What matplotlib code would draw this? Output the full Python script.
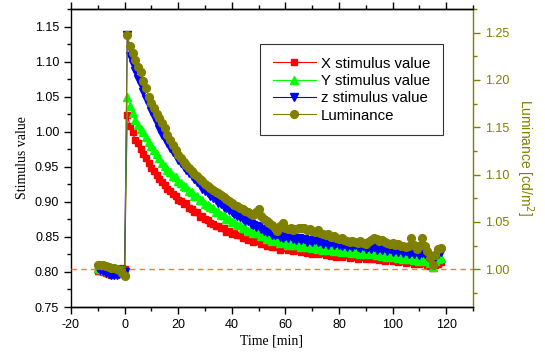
import numpy as np
import matplotlib
matplotlib.use("Agg")
import matplotlib.pyplot as plt
from matplotlib.ticker import MultipleLocator, FormatStrFormatter, FuncFormatter

# Time axis [min]: dark baseline (-10..0), then 1-min samples after stimulus onset
time_pre = [-10, -9, -8, -7, -6, -5, -4, -3, -2, -1, 0]
time_post = list(range(1, 119))
time = time_pre + time_post

x_pre = [0.802, 0.801, 0.800, 0.799, 0.797, 0.796, 0.797, 0.799, 0.803, 0.805, 0.804]
x_post = [
    1.024, 1.008, 0.999, 0.988, 0.984, 0.975, 0.968, 0.963, 0.955, 0.948,
    0.944, 0.938, 0.932, 0.928, 0.924, 0.918, 0.916, 0.911, 0.908, 0.903,
    0.901, 0.897, 0.898, 0.891, 0.890, 0.885, 0.885, 0.879, 0.880, 0.875,
    0.874, 0.870, 0.869, 0.865, 0.866, 0.862, 0.862, 0.857, 0.858, 0.854,
    0.856, 0.852, 0.853, 0.849, 0.849, 0.846, 0.847, 0.843, 0.844, 0.847,
    0.840, 0.841, 0.837, 0.843, 0.835, 0.836, 0.838, 0.832, 0.834, 0.837,
    0.831, 0.834, 0.830, 0.831, 0.834, 0.828, 0.831, 0.827, 0.831, 0.826,
    0.830, 0.825, 0.828, 0.827, 0.824, 0.829, 0.823, 0.826, 0.822, 0.826,
    0.821, 0.824, 0.827, 0.820, 0.823, 0.822, 0.819, 0.824, 0.821, 0.818,
    0.823, 0.819, 0.819, 0.822, 0.817, 0.820, 0.816, 0.820, 0.818, 0.815,
    0.819, 0.814, 0.817, 0.816, 0.813, 0.818, 0.814, 0.812, 0.816, 0.811,
    0.814, 0.813, 0.810, 0.809, 0.805, 0.810, 0.812, 0.814,
]

y_pre = [0.806, 0.804, 0.803, 0.801, 0.800, 0.799, 0.800, 0.801, 0.802, 0.803, 0.802]
y_post = [
    1.050, 1.036, 1.026, 1.017, 1.010, 1.004, 0.999, 0.993, 0.986, 0.980,
    0.974, 0.968, 0.962, 0.956, 0.951, 0.946, 0.943, 0.937, 0.935, 0.929,
    0.927, 0.922, 0.921, 0.915, 0.914, 0.909, 0.908, 0.903, 0.902, 0.897,
    0.896, 0.892, 0.891, 0.886, 0.885, 0.881, 0.881, 0.876, 0.876, 0.871,
    0.871, 0.867, 0.867, 0.863, 0.863, 0.859, 0.859, 0.855, 0.855, 0.856,
    0.851, 0.851, 0.847, 0.850, 0.844, 0.845, 0.847, 0.841, 0.842, 0.844,
    0.839, 0.842, 0.838, 0.839, 0.841, 0.836, 0.839, 0.835, 0.838, 0.834,
    0.837, 0.833, 0.836, 0.832, 0.835, 0.831, 0.835, 0.830, 0.834, 0.830,
    0.829, 0.833, 0.828, 0.832, 0.827, 0.831, 0.829, 0.826, 0.830, 0.825,
    0.829, 0.825, 0.828, 0.824, 0.827, 0.823, 0.827, 0.822, 0.826, 0.821,
    0.825, 0.820, 0.824, 0.819, 0.823, 0.818, 0.822, 0.817, 0.821, 0.816,
    0.820, 0.818, 0.815, 0.813, 0.807, 0.815, 0.818, 0.820,
]

z_pre = [0.805, 0.803, 0.801, 0.799, 0.797, 0.796, 0.795, 0.796, 0.797, 0.799, 0.800]
z_post = [
    1.138, 1.108, 1.097, 1.086, 1.075, 1.066, 1.056, 1.047, 1.038, 1.030,
    1.021, 1.012, 1.004, 0.996, 0.990, 0.984, 0.977, 0.971, 0.966, 0.960,
    0.956, 0.950, 0.946, 0.941, 0.937, 0.932, 0.928, 0.924, 0.919, 0.916,
    0.912, 0.909, 0.905, 0.903, 0.899, 0.897, 0.893, 0.891, 0.888, 0.885,
    0.883, 0.880, 0.878, 0.876, 0.873, 0.872, 0.868, 0.867, 0.864, 0.866,
    0.861, 0.859, 0.857, 0.859, 0.853, 0.852, 0.854, 0.850, 0.849, 0.851,
    0.848, 0.851, 0.847, 0.846, 0.849, 0.845, 0.847, 0.843, 0.846, 0.843,
    0.845, 0.842, 0.844, 0.840, 0.843, 0.839, 0.842, 0.838, 0.841, 0.839,
    0.837, 0.840, 0.836, 0.839, 0.835, 0.838, 0.836, 0.834, 0.837, 0.833,
    0.836, 0.833, 0.835, 0.832, 0.834, 0.831, 0.834, 0.830, 0.833, 0.829,
    0.832, 0.828, 0.831, 0.827, 0.830, 0.826, 0.829, 0.825, 0.828, 0.824,
    0.827, 0.826, 0.823, 0.820, 0.816, 0.823, 0.826, 0.829,
]

lum_pre = [1.004, 1.004, 1.004, 1.003, 1.002, 1.001, 1.001, 1.000, 0.999, 0.996, 0.993]
lum_post = [
    1.248, 1.236, 1.228, 1.221, 1.214, 1.208, 1.199, 1.191, 1.182, 1.176,
    1.170, 1.164, 1.160, 1.155, 1.149, 1.142, 1.137, 1.131, 1.126, 1.121,
    1.117, 1.113, 1.110, 1.107, 1.104, 1.101, 1.098, 1.095, 1.093, 1.090,
    1.088, 1.086, 1.084, 1.082, 1.080, 1.078, 1.076, 1.074, 1.072, 1.070,
    1.068, 1.067, 1.065, 1.064, 1.062, 1.060, 1.058, 1.057, 1.060, 1.064,
    1.056, 1.053, 1.051, 1.049, 1.047, 1.044, 1.040, 1.046, 1.049, 1.043,
    1.042, 1.043, 1.041, 1.042, 1.044, 1.043, 1.044, 1.041, 1.042, 1.040,
    1.039, 1.041, 1.038, 1.037, 1.036, 1.037, 1.034, 1.035, 1.033, 1.032,
    1.033, 1.031, 1.030, 1.029, 1.030, 1.029, 1.028, 1.030, 1.028, 1.027,
    1.029, 1.031, 1.033, 1.032, 1.030, 1.031, 1.029, 1.028, 1.027, 1.028,
    1.026, 1.027, 1.025, 1.024, 1.023, 1.025, 1.033, 1.026, 1.021, 1.024,
    1.033, 1.025, 1.019, 1.012, 1.004, 1.015, 1.021, 1.022,
]

x_val = x_pre + x_post
y_val = y_pre + y_post
z_val = z_pre + z_post
lum_val = lum_pre + lum_post

baseline_lum = 1.00
olive = "#808000"
sans = ["Liberation Sans", "Arial", "DejaVu Sans"]
serif = ["Liberation Serif", "Times New Roman", "DejaVu Serif"]

plt.rcParams["font.family"] = sans
plt.rcParams["font.size"] = 9

fig = plt.figure(figsize=(5.45, 3.52), dpi=100)
ax = fig.add_axes([71 / 545, 45 / 352, 402 / 545, 298 / 352])
ax2 = ax.twinx()

ms = 4.8
ax.plot(time, x_val, color="#ff0000", lw=0.8, marker="s", ms=ms, mec="#ff0000",
        label="X stimulus value")
ax.plot(time, y_val, color="#00ff00", lw=0.8, marker="^", ms=ms + 0.6, mec="#00ff00",
        label="Y stimulus value")
ax.plot(time, z_val, color="#0000ff", lw=0.8, marker="v", ms=ms + 0.6, mec="#0000ff",
        label="z stimulus value")
ax2.plot(time, lum_val, color=olive, lw=0.8, marker="o", ms=ms + 0.8, mec=olive,
         label="Luminance")
ax2.axhline(baseline_lum, color="#ff8000", lw=1.0, ls=(0, (4, 3)), zorder=0)

ax.set_xlim(-20, 130)
ax.set_ylim(0.75, 1.175)
ax2.set_ylim(0.96, 1.275)

ax.xaxis.set_major_locator(MultipleLocator(20))
ax.xaxis.set_minor_locator(MultipleLocator(10))
ax.yaxis.set_major_locator(MultipleLocator(0.05))
ax.yaxis.set_minor_locator(MultipleLocator(0.025))
ax2.yaxis.set_major_locator(MultipleLocator(0.05))
ax2.yaxis.set_minor_locator(MultipleLocator(0.025))
ax.xaxis.set_major_formatter(FuncFormatter(lambda v, p: f"{v:.0f}"))
ax.yaxis.set_major_formatter(FormatStrFormatter("%.2f"))
ax2.yaxis.set_major_formatter(FormatStrFormatter("%.2f"))

ax.tick_params(axis="x", which="both", direction="out", top=True, labeltop=False)
ax.tick_params(axis="x", which="major", length=5, width=1, labelsize=9)
ax.tick_params(axis="x", which="minor", length=3, width=1)
ax.tick_params(axis="y", which="major", direction="out", length=5, width=1, labelsize=9)
ax.tick_params(axis="y", which="minor", direction="out", length=3, width=1)
ax2.tick_params(axis="y", which="major", direction="out", length=5, width=1,
                colors=olive, labelsize=9)
ax2.tick_params(axis="y", which="minor", direction="out", length=3, width=1, colors=olive)

for a in (ax, ax2):
    for s in a.spines.values():
        s.set_linewidth(1.0)
ax2.spines["right"].set_color(olive)
ax2.spines["left"].set_visible(False)
ax.spines["right"].set_visible(False)

ax.set_xlabel("Time [min]", family=serif, fontsize=10, labelpad=3)
ax.set_ylabel("Stimulus value", family=serif, fontsize=10, labelpad=4)
ax2.set_ylabel("Luminance [cd/m$^2$]", color=olive, fontsize=10, rotation=-90,
               labelpad=19)

h1, l1 = ax.get_legend_handles_labels()
h2, l2 = ax2.get_legend_handles_labels()
leg = ax2.legend(h1 + h2, l1 + l2, loc="upper right", bbox_to_anchor=(0.925, 0.883),
                 borderaxespad=0, fancybox=False, framealpha=1, edgecolor="#333333",
                 fontsize=10.8, handlelength=2.9, handletextpad=0.3, labelspacing=0.22,
                 borderpad=0.85)
leg.get_frame().set_linewidth(0.8)

fig.savefig("out.png", dpi=100)
